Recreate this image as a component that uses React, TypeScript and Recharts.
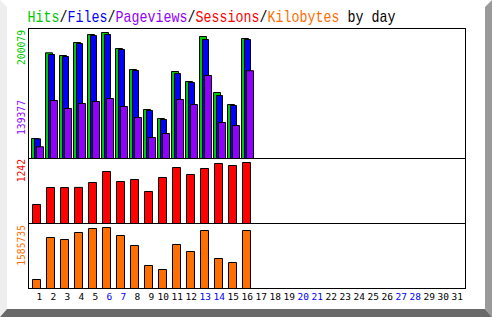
import React from 'react';
import { BarChart, Bar, XAxis, YAxis } from 'recharts';

const days = ['1','2','3','4','5','6','7','8','9','10','11','12','13','14','15','16','17','18','19','20','21','22','23','24','25','26','27','28','29','30','31'];
const weekendDays = ['6','7','13','14','20','21','27','28'];

const hits = [31760, 167840, 163550, 184200, 196900, 200079, 174670, 141320, 77810, 63520, 138150, 122270, 193720, 104800, 85750, 190550];
const files = [31200, 165140, 161960, 182610, 195310, 196900, 173080, 139730, 76220, 61930, 134970, 120680, 188960, 100040, 84160, 188960];
const pageviews = [18580, 92100, 79400, 87330, 90510, 95270, 82570, 65100, 33350, 39700, 93690, 85750, 131800, 57160, 52400, 139377];
const sessions = [387, 733, 731, 735, 835, 1059, 855, 896, 652, 937, 1140, 998, 1120, 1222, 1181, 1242];
const kilobytes = [234000, 1325800, 1273800, 1455800, 1559800, 1585735, 1377800, 1117800, 597900, 493900, 1143800, 961900, 1507800, 779900, 675900, 1507800];

const GREEN = '#00c800';
const BLUE = '#0000ff';
const PURPLE = '#9000ff';
const RED = '#ff0000';
const ORANGE = '#ff6e00';
const MONO = '"DejaVu Sans Mono", monospace';
const TITLE_FONT = '"Liberation Mono", "DejaVu Sans Mono", monospace';

const rows = days.map((d, i) => ({
  day: d,
  hits: hits[i],
  files: files[i],
  pages: pageviews[i],
  visits: sessions[i],
  kbytes: kilobytes[i],
}));

const maxHits = Math.max(...hits);
const maxPages = Math.max(...pageviews);
const maxVisits = Math.max(...sessions);
const maxKb = Math.max(...kilobytes);

const DayTick = (props: any) => {
  const { x, y, payload } = props;
  const label = String(payload.value);
  const dx = label.length === 1 ? 2.8 : 0.8;
  const color = weekendDays.includes(label) ? BLUE : '#000';
  return (
    <text x={x + dx} y={y + 11.5} textAnchor="middle" fill={color} fontFamily={MONO} fontSize={9.5}>
      {label}
    </text>
  );
};

const VLabel = ({ text, y, color }: { text: string; y: number; color: string }) => (
  <text x={25} y={y} transform={`rotate(-90 25 ${y})`} textAnchor="end" fill={color} fontFamily={MONO} fontSize={9.7}>
    {text}
  </text>
);

export default function App() {
  return (
    <div style={{ position: 'absolute', left: 0, top: 0, width: 492, height: 317, background: '#fff', overflow: 'hidden' }}>
      <div style={{ position: 'absolute', left: 0, top: 0 }}>
        <BarChart width={492} height={317} data={rows} margin={{ top: 28.5, bottom: 158.5, left: 30.5, right: 27.5 }} barGap={-4}>
          <XAxis dataKey="day" hide />
          <YAxis hide type="number" domain={[0, (maxHits * 130) / 126]} allowDataOverflow />
          <Bar dataKey="hits" fill={GREEN} stroke="#000" strokeWidth={1} barSize={7} isAnimationActive={false} />
          <Bar dataKey="files" fill={BLUE} stroke="#000" strokeWidth={1} barSize={6} isAnimationActive={false} />
          <Bar dataKey="pages" fill={PURPLE} stroke="#000" strokeWidth={1} barSize={7} isAnimationActive={false} />
        </BarChart>
      </div>
      <div style={{ position: 'absolute', left: 0, top: 0 }}>
        <BarChart width={492} height={317} data={rows} margin={{ top: 158.5, bottom: 93.5, left: 29.5, right: 28.5 }}>
          <XAxis dataKey="day" hide />
          <YAxis hide type="number" domain={[0, (maxVisits * 65) / 61]} allowDataOverflow />
          <Bar dataKey="visits" fill={RED} stroke="#000" strokeWidth={1} barSize={8} isAnimationActive={false} />
        </BarChart>
      </div>
      <div style={{ position: 'absolute', left: 0, top: 0 }}>
        <BarChart width={492} height={317} data={rows} margin={{ top: 223.5, bottom: 8.5, left: 29.5, right: 28.5 }}>
          <XAxis
            dataKey="day"
            height={20}
            interval={0}
            axisLine={false}
            tickLine={false}
            tickSize={0}
            tickMargin={0}
            tick={<DayTick />}
          />
          <YAxis hide type="number" domain={[0, (maxKb * 65) / 61]} allowDataOverflow />
          <Bar dataKey="kbytes" fill={ORANGE} stroke="#000" strokeWidth={1} barSize={8} isAnimationActive={false} />
        </BarChart>
      </div>
      <svg width={492} height={317} style={{ position: 'absolute', left: 0, top: 0, pointerEvents: 'none' }}>
        <rect x={28.5} y={28.5} width={437} height={130} fill="none" stroke="#000" />
        <rect x={28.5} y={158.5} width={437} height={65} fill="none" stroke="#000" />
        <rect x={28.5} y={223.5} width={437} height={65} fill="none" stroke="#000" />
        <g transform="translate(27.5 22) scale(0.8333 1)">
          <text x={0} y={0} fontFamily={TITLE_FONT} fontSize={16} fill="#000">
            <tspan fill={GREEN}>Hits</tspan>
            <tspan>/</tspan>
            <tspan fill={BLUE}>Files</tspan>
            <tspan>/</tspan>
            <tspan fill={PURPLE}>Pageviews</tspan>
            <tspan>/</tspan>
            <tspan fill={RED}>Sessions</tspan>
            <tspan>/</tspan>
            <tspan fill={ORANGE}>Kilobytes</tspan>
            <tspan> by day</tspan>
          </text>
        </g>
        <VLabel text={String(maxHits)} y={30} color={GREEN} />
        <VLabel text={String(maxPages)} y={100} color={PURPLE} />
        <VLabel text={String(maxVisits)} y={159} color={RED} />
        <VLabel text={String(maxKb)} y={225} color={ORANGE} />
        <polygon points="0,0 7,7 7,309 0,317" fill="#eeeeee" />
        <polygon points="492,0 485,7 485,309 492,317" fill="#9a9a9a" />
        <polygon points="0,317 7,309 485,309 492,317" fill="#6a6a6a" />
      </svg>
    </div>
  );
}
